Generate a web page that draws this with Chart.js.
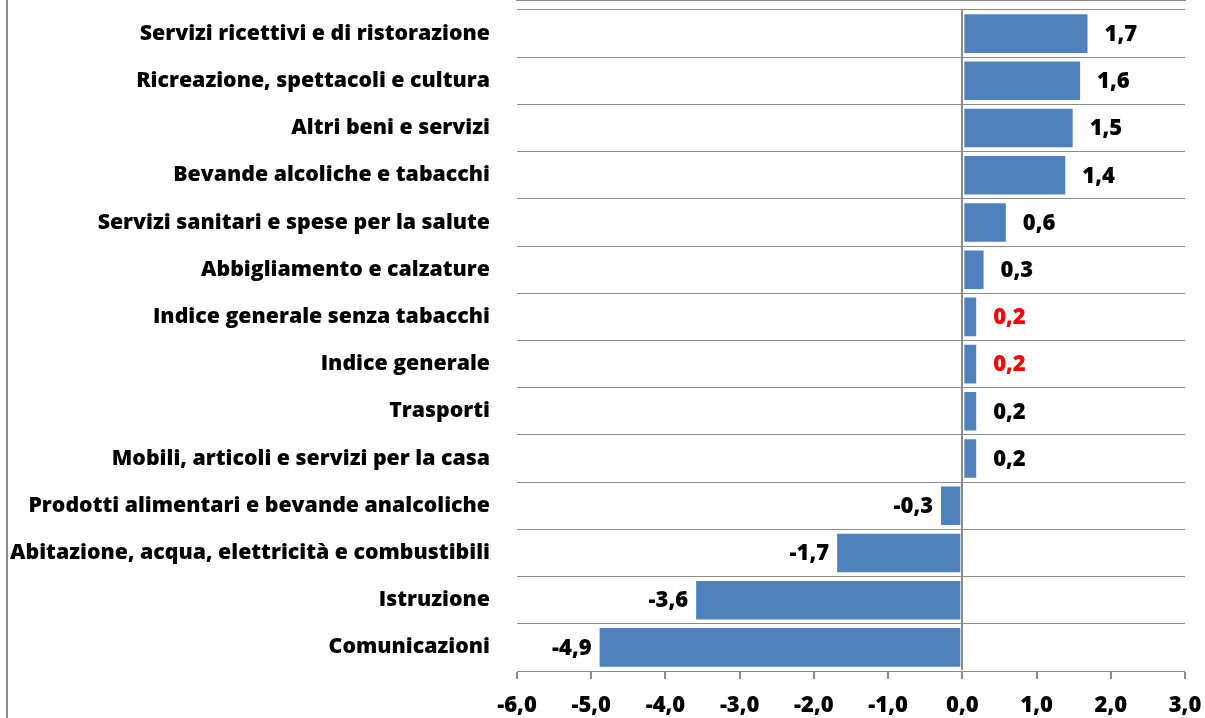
<!DOCTYPE html>
<html>
<head>
<meta charset="utf-8">
<script src="https://cdn.jsdelivr.net/npm/chart.js@4/dist/chart.umd.min.js"></script>
<style>
html,body{margin:0;padding:0;background:#fff;}
#wrap{position:relative;width:1205px;height:718px;}
#leftline{position:absolute;left:6px;top:0;width:2px;height:718px;background:#8c8c8c;}
canvas{display:block;}
</style>
</head>
<body>
<div id="wrap"><div id="leftline"></div><canvas id="c" width="1205" height="718"></canvas></div>
<script>
const categories = [
  "Servizi ricettivi e di ristorazione",
  "Ricreazione, spettacoli e cultura",
  "Altri beni e servizi",
  "Bevande alcoliche e tabacchi",
  "Servizi sanitari e spese per la salute",
  "Abbigliamento e calzature",
  "Indice generale senza tabacchi",
  "Indice generale",
  "Trasporti",
  "Mobili, articoli e servizi per la casa",
  "Prodotti alimentari e bevande analcoliche",
  "Abitazione, acqua, elettricità e combustibili",
  "Istruzione",
  "Comunicazioni"
];
const values = [1.7, 1.6, 1.5, 1.4, 0.6, 0.3, 0.2, 0.2, 0.2, 0.2, -0.3, -1.7, -3.6, -4.9];
const highlighted = ["Indice generale senza tabacchi", "Indice generale"];
const xMin = -6, xMax = 3, xStep = 1;

const FONT = "'Open Sans', sans-serif";
const fmt = v => v.toFixed(1).replace('.', ',');

const labelPlugin = {
  id: 'valueLabels',
  afterDatasetsDraw(chart) {
    const ctx = chart.ctx;
    const meta = chart.getDatasetMeta(0);
    ctx.save();
    ctx.font = "800 22px " + FONT;
    ctx.textBaseline = 'middle';
    meta.data.forEach((bar, i) => {
      const v = values[i];
      ctx.fillStyle = highlighted.includes(categories[i]) ? '#ff0000' : '#000000';
      if (v >= 0) {
        ctx.textAlign = 'left';
        ctx.fillText(fmt(v), bar.x + 16, bar.y + 1);
      } else {
        ctx.textAlign = 'right';
        ctx.fillText(fmt(v), bar.x - 7, bar.y + 1);
      }
    });
    ctx.restore();
  }
};

new Chart(document.getElementById('c'), {
  type: 'bar',
  data: {
    labels: categories,
    datasets: [{
      data: values,
      backgroundColor: '#4f81bd',
      borderColor: '#ffffff',
      borderWidth: 1,
      borderSkipped: false,
      categoryPercentage: 0.86,
      barPercentage: 1.0
    }]
  },
  options: {
    indexAxis: 'y',
    responsive: false,
    animation: false,
    layout: { padding: { top: 10, right: 20, left: 0, bottom: 0 } },
    plugins: { legend: { display: false }, tooltip: { enabled: false } },
    scales: {
      x: {
        min: xMin, max: xMax,
        ticks: {
          stepSize: xStep,
          callback: v => fmt(v),
          color: '#000',
          font: { family: FONT, size: 22, weight: '800' },
          padding: 14
        },
        grid: {
          drawOnChartArea: true,
          color: c => (c.tick && c.tick.value === 0) ? '#8c8c8c' : 'rgba(0,0,0,0)',
          lineWidth: 2,
          tickColor: '#8c8c8c',
          tickLength: 8,
          z: 1
        },
        border: { display: true, color: '#8c8c8c', width: 2 },
        afterFit: s => { s.height = 47; s.paddingLeft = 0; s.paddingRight = 0; }
      },
      y: {
        ticks: {
          color: '#000',
          font: { family: FONT, size: 21.3, weight: '800' },
          padding: 27
        },
        grid: {
          offset: true,
          color: '#8c8c8c',
          lineWidth: 1,
          drawTicks: false
        },
        border: { display: false },
        afterFit: s => { s.width = 517; s.paddingTop = 0; s.paddingBottom = 0; }
      }
    }
  },
  plugins: [labelPlugin]
});
</script>
</body>
</html>
